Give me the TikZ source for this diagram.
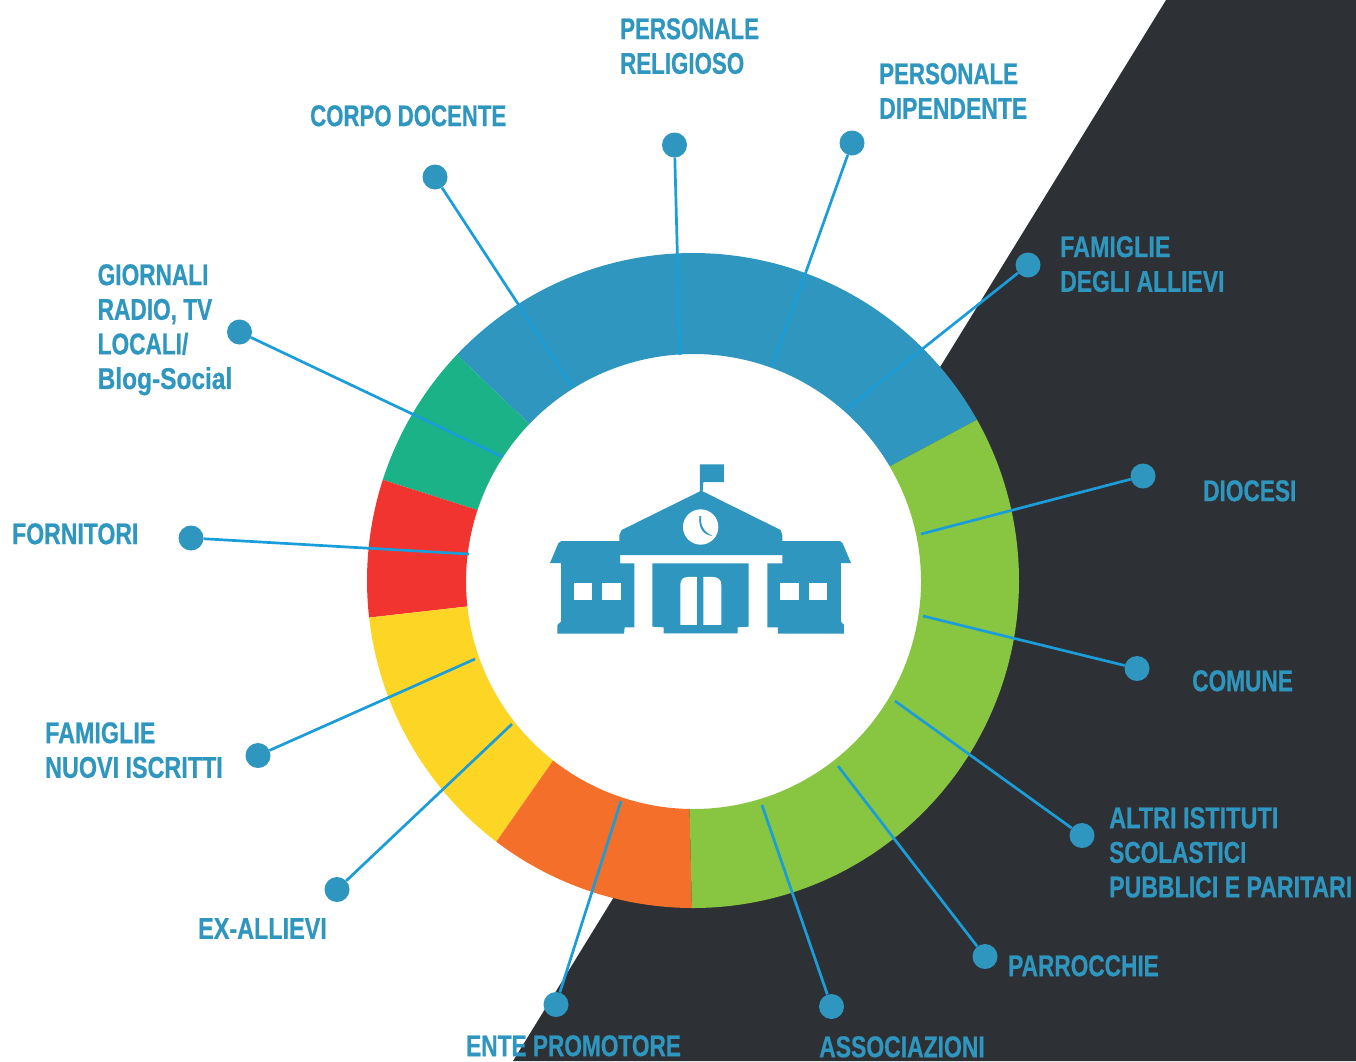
\documentclass[tikz,border=0pt]{standalone}
\usepackage{fontspec}
\setmainfont{Liberation Sans}
\newfontfamily\lblfont[FakeStretch=0.755,FakeBold=0.6]{Liberation Sans Bold}
\definecolor{ringblue}{HTML}{2E96BF}
\definecolor{linkblue}{HTML}{1B9DD9}
\definecolor{darkbg}{HTML}{2D3135}
\definecolor{ringgreen}{HTML}{88C540}
\definecolor{ringteal}{HTML}{1AB286}
\definecolor{ringred}{HTML}{F1342F}
\definecolor{ringyellow}{HTML}{FDD625}
\definecolor{ringorange}{HTML}{F46F29}
\tikzset{
  dot/.style={circle,fill=ringblue,draw=none,minimum size=25pt,inner sep=0pt},
  link/.style={draw=linkblue,line width=2.7pt},
  lbl/.style={text=ringblue,font=\lblfont\fontsize{30}{34.6}\selectfont,anchor=north west,inner sep=0pt,align=left},
}
\newcommand{\sx}[2]{\scalebox{#1}[1]{#2}}
% colour, outer start, inner start, outer end, inner end
\newcommand{\seg}[5]{\fill[#1] ({693+326*cos(#2)},{580.5-327.5*sin(#2)}) arc[start angle=-#2,end angle=-#4,x radius=326,y radius=327.5] -- ({693.5+227.5*cos(#5)},{581.5-227.5*sin(#5)}) arc[start angle=-#5,end angle=-#3,radius=227.5] -- cycle;}
\begin{document}
\begin{tikzpicture}[x=1pt,y=-1pt]
\useasboundingbox (0,0) rectangle (1356,1061);
\fill[white] (0,0) rectangle (1356,1061);
\begin{scope}
\clip (0,0) rectangle (1356,1061);
\fill[darkbg] (1166,0) -- (1356,0) -- (1356,1061) -- (513,1061) -- cycle;
\fill[white] (693.5,581.5) circle[radius=228];
\seg{ringblue}{29.4}{30.4}{136.4}{136.2}
\seg{ringteal}{136.4}{136.2}{162.1}{161.7}
\seg{ringred}{162.1}{161.7}{186.5}{186.3}
\seg{ringyellow}{186.5}{186.3}{232.9}{231.9}
\seg{ringorange}{232.9}{231.9}{269.8}{269}
\seg{ringgreen}{269.8}{269}{389.4}{390.4}
% icon
\begin{scope}[shift={(530,450)},x=0.3333pt,y=-0.3333pt]
\fill[ringblue] (510,43) -- (582,43) -- (582,96) -- (520,96) -- (518,124) -- (752,240) -- (757,255) -- (757,273) -- (930,273) -- (938,280) -- (963,339) -- (933,339) -- (933,515) -- (942,525) -- (942,551) -- (744,551) -- (744,532) -- (712,532) -- (712,340) -- (757,340) -- (757,315) -- (270,315) -- (270,340) -- (313,340) -- (313,532) -- (284,532) -- (282,551) -- (82,551) -- (82,525) -- (93,515) -- (93,339) -- (60,339) -- (85,280) -- (94,273) -- (268,273) -- (268,255) -- (275,240) -- (510,124) -- cycle;
\fill[ringblue] (367,340) -- (656,340) -- (656,530) -- (623,532) -- (623,550) -- (401,550) -- (401,532) -- (367,530) -- cycle;
\fill[white] (512,231) circle[radius=53];
\fill[ringblue] (508,198) -- (514,198) .. controls (510,225) and (520,245) .. (548,258) .. controls (520,255) and (505,235) .. (508,198) -- cycle;
\fill[white] (131,399) rectangle (187,451);
\fill[white] (217,399) rectangle (273,451);
\fill[white] (751,399) rectangle (807,451);
\fill[white] (837,399) rectangle (892,451);
\fill[white] (451,525) -- (451,405) .. controls (451,388) and (460,381) .. (475,381) -- (501,381) -- (501,525) -- cycle;
\fill[white] (520,525) -- (520,381) -- (548,381) .. controls (565,381) and (574,390) .. (574,405) -- (574,525) -- cycle;
\end{scope}
% connector inner ends
\coordinate (e1) at (573,388);
\coordinate (e2) at (680,355);
\coordinate (e3) at (772,367);
\coordinate (e4) at (848,408);
\coordinate (e5) at (921,534);
\coordinate (e6) at (923,616);
\coordinate (e7) at (895,701);
\coordinate (e8) at (838,766);
\coordinate (e9) at (762,805);
\coordinate (e10) at (621,801);
\coordinate (e11) at (512,724);
\coordinate (e12) at (475,659);
\coordinate (e13) at (469,554);
\coordinate (e14) at (503,457);
% dots
\node[dot] (d1) at (435,177) {};
\node[dot] (d2) at (674.5,145) {};
\node[dot] (d3) at (852,143) {};
\node[dot] (d4) at (1028,265) {};
\node[dot] (d5) at (1143,476) {};
\node[dot] (d6) at (1137,668.5) {};
\node[dot] (d7) at (1082,835.5) {};
\node[dot] (d8) at (985,956.5) {};
\node[dot] (d9) at (831.5,1006.5) {};
\node[dot] (d10) at (556,1004.5) {};
\node[dot] (d11) at (337,889.5) {};
\node[dot] (d12) at (258,755.5) {};
\node[dot] (d13) at (191,538) {};
\node[dot] (d14) at (239.5,332) {};
\foreach \i in {1,...,14} { \draw[link] (d\i) -- (e\i); }
% labels
\node[lbl] (t1) at (310,105) {\sx{.98}{CORPO DOCENTE}};
\node[lbl] (t2) at (620,18) {\sx{.985}{PERSONALE}\\\sx{.985}{RELIGIOSO}};
\node[lbl] (t3) at (879,63) {\sx{.985}{PERSONALE}\\\sx{1.014}{DIPENDENTE}};
\node[lbl] (t4) at (1060,236) {\sx{1.03}{FAMIGLIE}\\\sx{1.012}{DEGLI ALLIEVI}};
\node[lbl] (t5) at (1203,480) {DIOCESI};
\node[lbl] (t6) at (1192,670) {COMUNE};
\node[lbl] (t7) at (1109,807) {\sx{1.037}{ALTRI ISTITUTI}\\SCOLASTICI\\\sx{1.02}{PUBBLICI E PARITARI}};
\node[lbl] (t8) at (1008,955) {PARROCCHIE};
\node[lbl] (t9) at (819,1036) {\sx{1.012}{ASSOCIAZIONI}};
\node[lbl] (t10) at (466,1035) {ENTE PROMOTORE};
\node[lbl] (t11) at (198,918) {\sx{1.032}{EX-ALLIEVI}};
\node[lbl] (t12) at (45,722) {\sx{1.03}{FAMIGLIE}\\\sx{1.03}{NUOVI ISCRITTI}};
\node[lbl] (t13) at (12,523) {\sx{1.016}{FORNITORI}};
\node[lbl] (t14) at (97.5,264) {GIORNALI\\RADIO, TV\\LOCALI/\\\sx{1.08}{Blog-Social}};
\end{scope}
\end{tikzpicture}
\end{document}
